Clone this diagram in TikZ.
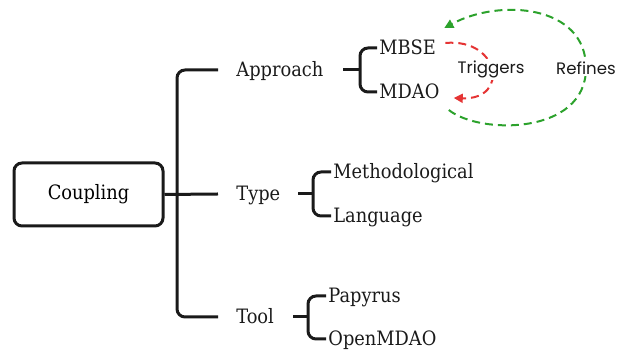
\documentclass[tikz,border=0pt]{standalone}
\usepackage{fontspec}
\setmainfont{DejaVu Serif Condensed}
\newfontfamily\relfont{Poppins}
\usetikzlibrary{arrows.meta}
\definecolor{trigred}{RGB}{229,52,52}
\definecolor{refgreen}{RGB}{44,162,44}
\definecolor{ink}{RGB}{26,26,26}
\begin{document}
\begin{tikzpicture}[x=0.5pt,y=-0.5pt]
      \tikzset{rootbox/.style={draw=ink, line width=1.5pt, rounded corners=4pt, minimum width=74.5pt, minimum height=31.5pt, font=\fontsize{9.9}{12}\selectfont},
               item/.style={anchor=west, inner sep=1pt, text height=9pt, text depth=2pt, text=ink, font=\fontsize{9.9}{12}\selectfont},
               branch/.style={draw=ink, line width=1.5pt, rounded corners=4pt},
               relation/.style={line width=1pt, dash pattern=on 4pt off 2.5pt, -{Triangle[length=4.5pt,width=4.5pt]}},
               rellabel/.style={fill=white, inner sep=1pt, font=\relfont\fontsize{8.3}{10}\selectfont, text=ink}}
      \useasboundingbox (0,0) rectangle (622,351);
%% Nodes
      	\node[rootbox] (coupling) at (88.5,194.5) {Coupling};
      	\node[item] (approach) at (234,70) {Approach};
      	\node[item] (type) at (234,194) {Type};
      	\node[item] (tool) at (234,317) {Tool};
      	\node[item] (mbse) at (377,48) {MBSE};
      	\node[item] (mdao) at (377,92) {MDAO};
      	\node[item] (method) at (331,172) {Methodological};
      	\node[item] (language) at (331,216) {Language};
      	\node[item] (papyrus) at (326,296) {Papyrus};
      	\node[item] (openmdao) at (326,339) {OpenMDAO};
%% Bracket joints
      	\coordinate (trunk) at (177,194);
      	\coordinate (apbr) at (360,70);
      	\coordinate (tybr) at (313,194);
      	\coordinate (tobr) at (308,317);
%Trunk
		\draw[branch] ([xshift=-8pt]approach.west) -| (trunk) |- ([xshift=-8pt]tool.west);
		\draw[branch] (coupling.east) -- ([xshift=-8pt]type.west);
%Brackets
		\draw[branch] ([xshift=-8.5pt]apbr) -- (apbr);
		\draw[branch] (mbse.west) -| (apbr) |- (mdao.west);
		\draw[branch] ([xshift=-7.5pt]tybr) -- (tybr);
		\draw[branch] (method.west) -| (tybr) |- (language.west);
		\draw[branch] ([xshift=-7.5pt]tobr) -- (tobr);
		\draw[branch] (papyrus.west) -| (tobr) |- (openmdao.west);
%Relations
		\draw[relation, trigred] ([xshift=3.5pt,yshift=2.5pt]mbse.east) .. controls (500,38) and (510,100) .. ([xshift=6pt,yshift=-3pt]mdao.east) node[rellabel, pos=0.5] (triggers) {Triggers};
		\draw[relation, refgreen] ([xshift=3.5pt,yshift=-9pt]mdao.east) .. controls (480,135) and (586,135) .. (586,68) node[rellabel] (refines) {Refines} .. controls (586,5) and (500,-2) .. ([xshift=3pt,yshift=10pt]mbse.east);
	\end{tikzpicture}
\end{document}
